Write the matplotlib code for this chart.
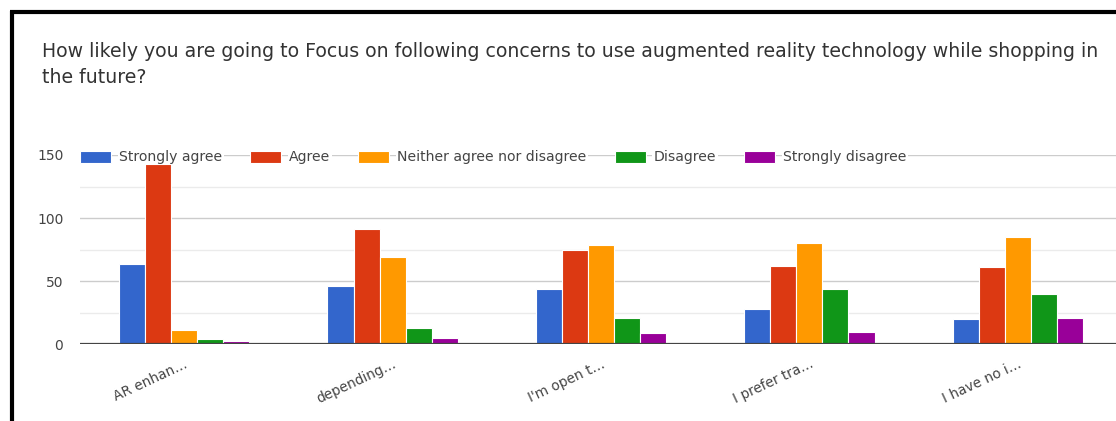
import matplotlib
matplotlib.use("Agg")
import matplotlib.pyplot as plt
import numpy as np
from matplotlib.lines import Line2D
from matplotlib.patches import Rectangle

# Survey responses per statement
statements = ["AR enhan…", "depending…", "I'm open t…", "I prefer tra…", "I have no i…"]
responses = ["Strongly agree", "Agree", "Neither agree nor disagree", "Disagree", "Strongly disagree"]
strongly_agree = [64, 46, 44, 28, 20]
agree = [143, 91, 75, 62, 61]
neutral = [11, 69, 79, 80, 85]
disagree = [4, 13, 21, 44, 40]
strongly_disagree = [3, 5, 9, 10, 21]
y_ticks = [0, 50, 100, 150]

colors = ['#3366cc', '#dc3912', '#ff9900', '#109618', '#990099']
series = [strongly_agree, agree, neutral, disagree, strongly_disagree]

W, H = 1116, 421
fig = plt.figure(figsize=(W / 100, H / 100), dpi=100)
fig.patch.set_facecolor('white')


def fx(x):
    return x / W


def fy(y):
    return 1 - y / H


# black frame around the card
fig.add_artist(Line2D([fx(10), fx(W + 5)], [fy(12), fy(12)], color='black', lw=3, solid_capstyle='butt'))
fig.add_artist(Line2D([fx(11.5), fx(11.5)], [fy(10.5), fy(H + 5)], color='black', lw=3, solid_capstyle='butt'))

# question title
title_font = dict(fontsize=13.6, color='#333333', ha='left', va='baseline', family='DejaVu Sans')
fig.text(fx(42), fy(57), "How likely you are going to Focus on following concerns to use augmented reality "
         "technology while shopping in", **title_font)
fig.text(fx(42), fy(83), "the future?", **title_font)

y0, y150 = 344.3, 155.0
ax = fig.add_axes([fx(80), fy(y0), fx(1042), (y0 - y150) / H])

x = np.arange(len(statements))
width = 0.125
offsets = (np.arange(len(series)) - 2) * width
for vals, off, col in zip(series, offsets, colors):
    ax.bar(x + off, vals, width, color=col, edgecolor='white', linewidth=0.8, zorder=3)

ax.set_xlim(-0.5, len(statements) - 0.5)
ax.set_ylim(0, 150)
ax.set_yticks(y_ticks)
ax.set_yticks([25, 75, 125], minor=True)
ax.grid(axis='y', which='major', color='#cccccc', lw=1, zorder=0)
ax.grid(axis='y', which='minor', color='#ebebeb', lw=1, zorder=0)
ax.axhline(0, color='#444444', lw=1.6, zorder=4)
for s in ax.spines.values():
    s.set_visible(False)
ax.tick_params(axis='both', which='both', length=0)
ax.tick_params(axis='y', labelsize=10, labelcolor='#444444', pad=12)
ax.set_xticks(x)
ax.set_xticklabels(statements, rotation=25, ha='right', va='top', rotation_mode='anchor',
                   fontsize=9.8, color='#444444')
ax.tick_params(axis='x', pad=9)

# legend laid over the top gridline
fig.canvas.draw()
renderer = fig.canvas.get_renderer()
lx = 80
ly = 157
for name, col in zip(responses, colors):
    fig.add_artist(Rectangle((fx(lx), fy(ly + 6)), fx(31), 12 / H, transform=fig.transFigure,
                             facecolor=col, edgecolor='white', lw=0.8, zorder=5))
    t = fig.text(fx(lx + 39), fy(ly), name, fontsize=10.1, color='#444444', ha='left', va='center',
                 zorder=5, bbox=dict(facecolor='white', edgecolor='none', pad=1))
    bb = t.get_window_extent(renderer)
    lx = lx + 39 + bb.width + 28

fig.savefig("out.png", dpi=100)
